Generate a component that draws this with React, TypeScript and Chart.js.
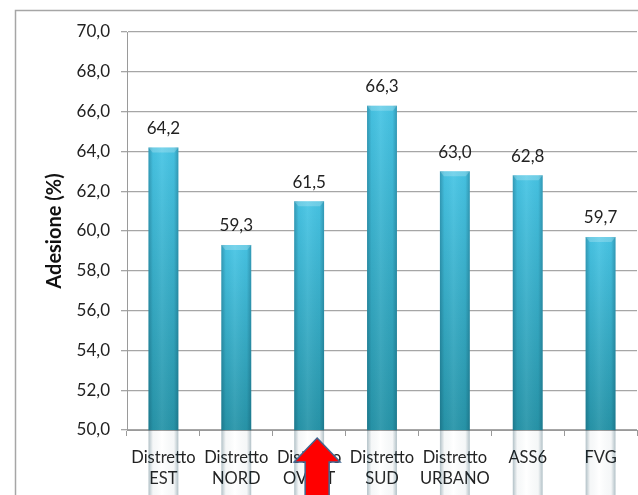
import React, { useEffect, useRef } from "react";
import { Chart, registerables } from "chart.js";

Chart.register(...registerables);

const categories: string[][] = [
  ["Distretto", "EST"],
  ["Distretto", "NORD"],
  ["Distretto", "OVEST"],
  ["Distretto", "SUD"],
  ["Distretto", "URBANO"],
  ["ASS6"],
  ["FVG"],
];
const adesione: number[] = [64.2, 59.3, 61.5, 66.3, 63.0, 62.8, 59.7];
const yMin = 50;
const yMax = 70;
const yStep = 2;
const yTitle = "Adesione (%)";
const highlightIndex = 2;

const FONT = "Lato, 'Open Sans', 'DejaVu Sans', sans-serif";
const fmt = (v: number) => v.toFixed(1).replace(".", ",");

const framePlugin = {
  id: "frame",
  beforeDraw(chart: any) {
    const { ctx, width, height } = chart;
    ctx.save();
    ctx.fillStyle = "#ffffff";
    ctx.fillRect(0, 0, width, height);
    ctx.strokeStyle = "#a6a6a6";
    ctx.lineWidth = 1.5;
    ctx.beginPath();
    ctx.moveTo(15.5, height + 5);
    ctx.lineTo(15.5, 10.5);
    ctx.lineTo(width + 5, 10.5);
    ctx.stroke();
    ctx.restore();
  },
};

const barShadePlugin = {
  id: "barShade",
  afterDatasetsDraw(chart: any) {
    const { ctx } = chart;
    const meta = chart.getDatasetMeta(0);
    ctx.save();
    meta.data.forEach((bar: any, i: number) => {
      const left = bar.x - bar.width / 2;
      const right = bar.x + bar.width / 2;
      const top = bar.y;
      const bottom = bar.base;
      const h = ctx.createLinearGradient(left, 0, right, 0);
      h.addColorStop(0, "rgba(0,50,70,0.30)");
      h.addColorStop(0.15, "rgba(0,50,70,0.04)");
      h.addColorStop(0.45, "rgba(255,255,255,0.06)");
      h.addColorStop(0.85, "rgba(0,50,70,0.04)");
      h.addColorStop(1, "rgba(0,50,70,0.30)");
      ctx.fillStyle = h;
      ctx.fillRect(left, top, right - left, bottom - top);
      // top bevel
      ctx.fillStyle = "rgba(255,255,255,0.22)";
      ctx.beginPath();
      ctx.moveTo(left, top);
      ctx.lineTo(right, top);
      ctx.lineTo(right - 4, top + 5);
      ctx.lineTo(left + 4, top + 5);
      ctx.closePath();
      ctx.fill();
      // labels
      ctx.fillStyle = "#222222";
      ctx.font = `17px ${FONT}`;
      ctx.textAlign = "center";
      ctx.textBaseline = "middle";
      ctx.fillText(fmt(adesione[i]), bar.x, top - 19);
    });
    ctx.restore();
  },
};

const arrowPlugin = {
  id: "arrow",
  afterDraw(chart: any) {
    const { ctx } = chart;
    const xs = chart.scales.x;
    const cx = xs.getPixelForValue(highlightIndex) + 8;
    const tipY = chart.chartArea.bottom + 8;
    const headY = tipY + 24;
    const headHalf = 23;
    const shaftHalf = 12;
    ctx.save();
    ctx.fillStyle = "#ff0000";
    ctx.strokeStyle = "#41668f";
    ctx.lineWidth = 1.5;
    ctx.beginPath();
    ctx.moveTo(cx, tipY);
    ctx.lineTo(cx + headHalf, headY);
    ctx.lineTo(cx + shaftHalf, headY);
    ctx.lineTo(cx + shaftHalf, chart.height + 10);
    ctx.lineTo(cx - shaftHalf, chart.height + 10);
    ctx.lineTo(cx - shaftHalf, headY);
    ctx.lineTo(cx - headHalf, headY);
    ctx.closePath();
    ctx.fill();
    ctx.stroke();
    ctx.restore();
  },
};

export default function App() {
  const ref = useRef<HTMLCanvasElement | null>(null);

  useEffect(() => {
    if (!ref.current) return;
    const chart = new Chart(ref.current, {
      type: "bar",
      data: {
        labels: categories,
        datasets: [
          {
            data: adesione,
            barPercentage: 0.41,
            categoryPercentage: 1,
            borderWidth: 0,
            backgroundColor: (c: any) => {
              const ch = c.chart;
              const area = ch.chartArea;
              if (!area || c.raw == null) return "#35b0cc";
              const yTop = ch.scales.y.getPixelForValue(c.raw);
              const g = ch.ctx.createLinearGradient(0, yTop, 0, area.bottom);
              g.addColorStop(0, "#48c5e5");
              g.addColorStop(1, "#2895a9");
              return g;
            },
          },
        ],
      },
      options: {
        animation: false,
        responsive: true,
        maintainAspectRatio: false,
        layout: { padding: { top: 32, right: 1, left: 0, bottom: 0 } },
        plugins: {
          legend: { display: false },
          tooltip: { enabled: false },
        },
        scales: {
          x: {
            grid: {
              drawOnChartArea: false,
              drawTicks: true,
              tickLength: 6,
              color: "#9a9a9a",
              offset: true,
            },
            border: { color: "#9a9a9a", width: 1 },
            ticks: {
              color: "#222222",
              font: { family: FONT, size: 16.5, lineHeight: 1.27 },
              padding: 11,
              maxRotation: 0,
              autoSkip: false,
            },
            afterFit: (s: any) => {
              s.height = 65;
            },
          },
          y: {
            min: yMin,
            max: yMax,
            grid: {
              color: "#a6a6a6",
              lineWidth: 1.3,
              tickLength: 6,
            },
            border: { color: "#9a9a9a", width: 1 },
            ticks: {
              stepSize: yStep,
              color: "#222222",
              font: { family: FONT, size: 17 },
              padding: 11,
              callback: (v: any) => fmt(Number(v)),
            },
            title: {
              display: true,
              text: yTitle,
              color: "#111111",
              font: { family: FONT, size: 20, weight: "bold" },
              padding: { top: 43, bottom: 0 },
            },
            afterFit: (s: any) => {
              s.width = 127;
            },
          },
        },
      },
      plugins: [framePlugin, barShadePlugin, arrowPlugin],
    } as any);
    return () => chart.destroy();
  }, []);

  return (
    <div style={{ position: "fixed", left: 0, top: 0, width: 638, height: 495, background: "#fff" }}>
      <canvas ref={ref} />
    </div>
  );
}
